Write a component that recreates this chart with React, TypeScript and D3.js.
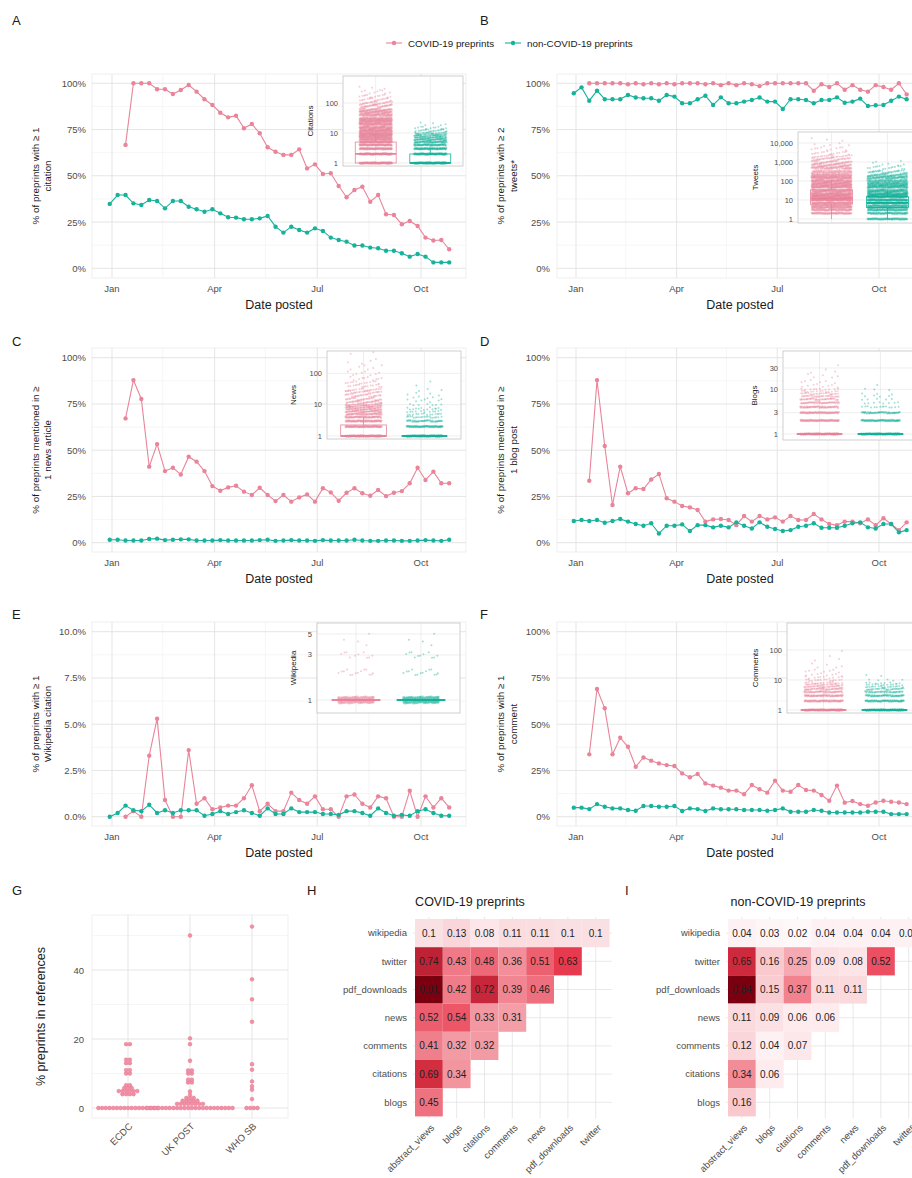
import * as d3 from "d3";

const FONT = "'Liberation Sans', Arial, Helvetica, sans-serif";
const PINK = "#e9849a";
const TEAL = "#17b29b";
const INK = "#1a1a1a";
const TICK = "#4d4d4d";
const GRID = "#e2e2e2";
const GRID_MINOR = "#f0f0f0";

// week-start dates of the weekly bins (30 Dec 2019 .. 26 Oct 2020)
const weekStarts = d3.range(44).map((i) => d3.timeDay.offset(new Date(2019, 11, 30), 7 * i));
const monthTicks = [new Date(2020, 0, 1), new Date(2020, 3, 1), new Date(2020, 6, 1), new Date(2020, 9, 1)];
const monthMinor = [new Date(2020, 1, 15), new Date(2020, 4, 16), new Date(2020, 7, 16)];

// A: % with >= 1 citation
const citationsCovid = [null, null, 66.7, 100, 100, 100, 96.8, 96.8, 94.2, 96.4, 99.1, 95.5, 91.4, 88.3, 84.1, 81.6, 82.5, 75.7, 78, 73, 65.4, 63, 61.3, 61.3, 64.3, 54, 56.2, 51, 51.4, 44.5, 38.4, 42.3, 44.1, 36, 39.6, 29.2, 28.8, 23.8, 25.6, 22.9, 16.6, 15, 15.3, 10.3];
const citationsNon = [34.8, 39.6, 39.6, 35.1, 34.2, 36.9, 36.4, 32.4, 36.4, 36.4, 33.3, 31.9, 30.6, 31.9, 29.7, 27.6, 27.4, 26.5, 26.5, 27, 28.3, 22.5, 19.3, 22.5, 20.7, 19.3, 21.6, 20.2, 16.6, 15.3, 14.4, 12.3, 12.3, 11.2, 10.8, 9.5, 9.5, 8.1, 6.3, 7.7, 6.3, 3.2, 3.2, 3.2];

// B: % with >= 2 tweets
const tweetsCovid = [null, null, 100, 100, 100, 100, 100, 99.5, 100, 99.5, 100, 99.5, 100, 99.5, 100, 100, 100, 99.5, 100, 99, 100, 99, 100, 99.5, 98.5, 100, 100, 100, 100, 100, 100, 96, 99.5, 98, 100, 96.5, 99, 96.5, 95.5, 99, 98, 96.5, 100, 94];
const tweetsNon = [94.6, 97.8, 90.6, 96, 91.4, 91.4, 91.4, 93.7, 92.3, 91.9, 91.9, 90.6, 93.7, 92.8, 89.2, 89.2, 91.4, 93.3, 88.3, 92.4, 89.2, 89.2, 90.1, 91, 92.3, 90.1, 90.1, 86.1, 91.4, 91.4, 91, 89.2, 91, 91, 92.4, 89.5, 90.1, 91.7, 87.7, 88.1, 88.3, 90.6, 92.8, 91.4];

// C: % mentioned in >= 1 news article
const newsCovid = [null, null, 67.2, 87.9, 77.7, 41.1, 53.3, 38.7, 40.5, 36.9, 46.5, 43.8, 38.7, 30.6, 28.1, 29.9, 30.8, 27.6, 25.8, 29.7, 25.8, 22.5, 25.8, 22.2, 24.5, 26.1, 22.2, 29.4, 27.2, 22.7, 27, 29.4, 26.7, 25.4, 28.5, 25.2, 27, 27.9, 32.1, 40.5, 33.9, 38.4, 32.1, 32.1];
const newsNon = [1.6, 1.6, 1.2, 1.2, 1.2, 2.0, 2.2, 1.4, 1.6, 1.8, 1.8, 1.2, 1.2, 1.2, 1.4, 1.2, 1.2, 1.2, 1.2, 1.4, 1.6, 1.0, 1.2, 1.4, 1.2, 1.2, 1.0, 1.4, 1.2, 1.2, 1.2, 1.6, 1.2, 1.0, 1.0, 1.2, 1.2, 1.0, 1.0, 1.2, 1.4, 1.2, 1.0, 1.6];

// D: % mentioned in >= 1 blog post
const blogsCovid = [null, null, 33.5, 87.9, 52.3, 20.4, 41.1, 26.7, 29.4, 29, 34.2, 37.1, 24, 22.2, 19.8, 19.1, 17.7, 11.4, 12.6, 12.8, 12.3, 9.5, 14.4, 11.4, 14.4, 12.6, 13.7, 11.4, 14.4, 12.3, 12.3, 15.5, 12.6, 10.1, 9.5, 11.4, 11.4, 10.5, 12.6, 9.5, 13.2, 10.1, 6.8, 11];
const blogsNon = [11.7, 12.3, 11.7, 12.3, 10.8, 11.7, 12.8, 11.4, 10.1, 9.2, 10.5, 5, 9.2, 9.2, 9.9, 6.3, 9.5, 9.5, 8.3, 9.2, 8.3, 11, 9.2, 7.7, 11, 8.6, 7.4, 6.3, 6.8, 8.6, 9.2, 10.5, 8.1, 8.1, 8.1, 9.2, 10.5, 11, 8.3, 7.7, 10.1, 10.1, 5.6, 6.8];

// E: % with >= 1 Wikipedia citation
const wikiCovid = [null, null, 0, 0.3, 0, 3.3, 5.3, 0.9, 0, 0, 3.6, 0.7, 1.0, 0.4, 0.5, 0.6, 0.6, 1.0, 1.7, 0.3, 0.7, 0.3, 0.3, 1.3, 0.9, 0.7, 1.1, 0.4, 0.4, 0, 1.1, 1.2, 0.7, 0.5, 1.1, 1.0, 0, 0, 1.4, 0, 1.1, 0.5, 1.0, 0.5];
const wikiNon = [0, 0.2, 0.6, 0.35, 0.3, 0.65, 0.2, 0.35, 0.2, 0.35, 0.35, 0.35, 0.05, 0.15, 0.3, 0.15, 0.25, 0.35, 0.2, 0.05, 0.45, 0.15, 0.15, 0.45, 0.25, 0.25, 0.25, 0.15, 0.15, 0.1, 0.3, 0.3, 0.2, 0.05, 0.45, 0.2, 0.05, 0.1, 0.05, 0.3, 0.4, 0.2, 0.05, 0.05];

// F: % with >= 1 comment
const commentsCovid = [null, null, 33.7, 69, 58.6, 33.7, 42.7, 37.8, 27, 32, 30.3, 28.8, 27.9, 27.4, 23.4, 21.3, 23.1, 18, 16.8, 15.7, 14.1, 14.1, 12.1, 17.1, 14.8, 13, 19.5, 14.1, 13.5, 17.1, 14.4, 14.1, 11.7, 8.6, 16.8, 7.6, 8.5, 6.8, 5.9, 7.7, 8.6, 8.1, 7.7, 6.8];
const commentsNon = [4.9, 4.9, 4.1, 6.8, 5.4, 4.5, 4.5, 3.6, 3.2, 5.8, 5.8, 5.4, 5.4, 5.8, 3.1, 4.5, 4.1, 3.1, 4.5, 4, 4, 4, 3.6, 3.6, 3.6, 3.2, 3.6, 4.5, 2.7, 2.7, 2.7, 3.6, 3.2, 2.3, 2.3, 2.3, 2.3, 2.3, 2.7, 2.7, 2.7, 1.4, 1.4, 1.4];

// inset boxplots: [lower whisker, q1, median, q3, upper whisker]; dots: [count value, preprints drawn]
const citeBoxCovid = [1, 1, 2, 5, 11];
const citeBoxNon = [1, 1, 1, 2, 3];
const citeDotsCovid = [[1, 150], [2, 140], [3, 130], [4, 120], [5, 110], [6, 100], [7, 95], [8, 90], [9, 85], [10, 80], [12, 140], [15, 140], [20, 140], [25, 120], [30, 110], [40, 100], [50, 80], [60, 60], [80, 45], [100, 30], [130, 20], [170, 14], [230, 8], [320, 4]];
const citeDotsNon = [[1, 150], [2, 120], [3, 100], [4, 80], [5, 70], [6, 55], [7, 45], [8, 35], [9, 28], [10, 22], [12, 20], [15, 12], [20, 5]];

const tweetBoxCovid = [1, 6, 12, 34, 110];
const tweetBoxNon = [1, 4, 7, 15, 30];
const tweetDotsCovid = [[2, 90], [3, 90], [4, 90], [5, 90], [7, 120], [10, 150], [15, 170], [20, 170], [30, 170], [50, 170], [70, 150], [100, 150], [150, 130], [200, 110], [300, 100], [500, 80], [700, 60], [1000, 45], [1500, 32], [2000, 22], [3000, 16], [5000, 10], [8000, 5], [15000, 3]];
const tweetDotsNon = [[1, 90], [2, 90], [3, 90], [4, 90], [5, 90], [7, 120], [10, 150], [15, 160], [20, 160], [30, 160], [50, 140], [70, 120], [100, 100], [150, 80], [200, 60], [300, 40], [500, 16], [800, 5], [1200, 2]];

const newsBoxCovid = [1, 1, 1, 2.25, 4];
const newsBoxNon = [1, 1, 1, 1, 1];
const newsDotsCovid = [[1, 150], [2, 120], [3, 100], [4, 80], [5, 65], [6, 55], [7, 48], [8, 42], [9, 36], [10, 34], [12, 40], [15, 34], [20, 30], [25, 24], [30, 20], [40, 16], [50, 13], [70, 10], [100, 8], [150, 6], [250, 4], [400, 2]];
const newsDotsNon = [[1, 150], [2, 90], [3, 50], [4, 20], [5, 14], [6, 10], [7, 8], [8, 6], [10, 7], [13, 6], [17, 5], [22, 4], [30, 3], [45, 2]];

const blogBoxCovid = [1, 1, 1, 1, 1];
const blogBoxNon = [1, 1, 1, 1, 1];
const blogDotsCovid = [[1, 150], [2, 110], [3, 90], [4, 70], [5, 55], [6, 40], [7, 30], [8, 22], [9, 14], [10, 10], [12, 8], [15, 6], [20, 5], [25, 3], [32, 1]];
const blogDotsNon = [[1, 150], [2, 90], [3, 60], [4, 14], [5, 8], [6, 5], [7, 4], [8, 3], [10, 3], [12, 1]];

const wikiBoxCovid = [1, 1, 1, 1, 1];
const wikiBoxNon = [1, 1, 1, 1, 1];
const wikiDotsCovid = [[1, 220], [2, 14], [3, 10], [4, 3], [5, 1]];
const wikiDotsNon = [[1, 220], [2, 14], [3, 11], [4, 3], [5, 1]];

const commBoxCovid = [1, 1, 1, 1, 1];
const commBoxNon = [1, 1, 1, 1, 1];
const commDotsCovid = [[1, 150], [2, 100], [3, 80], [4, 60], [5, 45], [6, 32], [7, 24], [8, 18], [10, 16], [12, 10], [15, 8], [20, 7], [30, 5], [50, 3], [80, 1]];
const commDotsNon = [[1, 150], [2, 90], [3, 65], [4, 45], [5, 30], [6, 18], [7, 12], [8, 8], [10, 5], [13, 2]];

// G: % preprints in references, per source document ([value, documents])
const refCats = ["ECDC", "UK POST", "WHO SB"];
const ecdcDots = [[0, 17], [4, 4], [4.9, 6], [5.8, 3], [6.6, 2], [10, 2], [11, 2], [13, 2], [14, 2], [18.5, 2]];
const ukPostDots = [[0, 24], [1.2, 8], [2.1, 5], [2.9, 3], [3.8, 1], [4.8, 1], [7.4, 2], [8.2, 2], [10, 2], [10.9, 2], [13.7, 1], [18.5, 1], [20.2, 1], [50, 1]];
const whoSbDots = [[0, 4], [2.6, 1], [5.3, 1], [6.3, 1], [7.7, 1], [11.1, 1], [12.7, 1], [25, 1], [31.5, 1], [37.3, 1], [52.6, 1]];

// H / I: correlation between metrics (lower triangle, rows top to bottom)
const heatCols = ["abstract_views", "blogs", "citations", "comments", "news", "pdf_downloads", "twitter"];
const heatRows = ["wikipedia", "twitter", "pdf_downloads", "news", "comments", "citations", "blogs"];
const covidCorr = [[0.1, 0.13, 0.08, 0.11, 0.11, 0.1, 0.1], [0.74, 0.43, 0.48, 0.36, 0.51, 0.63], [0.91, 0.42, 0.72, 0.39, 0.46], [0.52, 0.54, 0.33, 0.31], [0.41, 0.32, 0.32], [0.69, 0.34], [0.45]];
const nonCovidCorr = [[0.04, 0.03, 0.02, 0.04, 0.04, 0.04, 0.04], [0.65, 0.16, 0.25, 0.09, 0.08, 0.52], [0.84, 0.15, 0.37, 0.11, 0.11], [0.11, 0.09, 0.06, 0.06], [0.12, 0.04, 0.07], [0.34, 0.06], [0.16]];

// layout
const COLS = [
  { x0: 92, x1: 466, jan: 112, oct: 421, tickRight: 86, labX: [39, 51], letterX: 12 },
  { x0: 557, x1: 923, jan: 576, oct: 879, tickRight: 550, labX: [504, 517], letterX: 480 },
];
const ROWS = [
  { y0: 74, y1: 278, yTop: 83.3, yZero: 268.3, letterY: 25 },
  { y0: 348, y1: 552, yTop: 357.7, yZero: 542.7, letterY: 346 },
  { y0: 622, y1: 826, yTop: 631.7, yZero: 816.7, letterY: 619 },
];

function jitterDots(levels, cx, half, y, amp) {
  const out = [];
  levels.forEach(([v, n], li) => {
    let a = amp;
    if (v > 10) {
      const gaps = [levels[li - 1], levels[li + 1]].filter(Boolean).map((l) => Math.abs(y(l[0]) - y(v)));
      a = Math.max(amp, Math.min(3, Math.min(...gaps) / 2));
    }
    for (let k = 0; k < n; k++) {
      const fx = ((k + 1) * 0.6180339887 + li * 0.311) % 1;
      const fy = ((k + 1) * 0.7548776662 + li * 0.173) % 1;
      out.push([cx + (fx - 0.5) * 2 * half, y(v) + (fy - 0.5) * 2 * a]);
    }
  });
  return out;
}

function Inset({ cfg }) {
  const [x0, x1, y0, y1] = cfg.frame;
  const y = d3.scaleLog().domain(cfg.logDomain).range(cfg.logRange);
  const s = (x1 - x0) / 2.2;
  const centers = [x0 + 0.6 * s, x0 + 1.6 * s];
  const bw = 0.75 * s;
  const fmt = d3.format(",");
  const groups = [
    { cx: centers[0], box: cfg.boxCovid, dots: cfg.covid, color: PINK },
    { cx: centers[1], box: cfg.boxNon, dots: cfg.non, color: TEAL },
  ];
  return (
    <g>
      <rect x={x0} y={y0} width={x1 - x0} height={y1 - y0} fill="#fff" stroke="#c4c4c4" strokeWidth={0.8} />
      {cfg.ticks.map((t) => (
        <line key={"g" + t} x1={x0} x2={x1} y1={y(t)} y2={y(t)} stroke={GRID} strokeWidth={0.6} />
      ))}
      {centers.map((c) => (
        <line key={"v" + c} x1={c} x2={c} y1={y0} y2={y1} stroke={GRID} strokeWidth={0.6} />
      ))}
      {groups.map((g) => {
        const [lo, q1, med, q3, hi] = g.box;
        return (
          <g key={g.color}>
            <line x1={g.cx} x2={g.cx} y1={y(q3)} y2={y(hi)} stroke={g.color} strokeWidth={0.8} />
            <line x1={g.cx} x2={g.cx} y1={y(q1)} y2={y(lo)} stroke={g.color} strokeWidth={0.8} />
            {q3 > q1 && (
              <rect x={g.cx - bw / 2} y={y(q3)} width={bw} height={y(q1) - y(q3)} fill="none" stroke={g.color} strokeWidth={0.8} />
            )}
            <line x1={g.cx - bw / 2} x2={g.cx + bw / 2} y1={y(med)} y2={y(med)} stroke={g.color} strokeWidth={1.8} />
            {jitterDots(g.dots, g.cx, cfg.jw * s, y, cfg.amp).map(([px, py], i) => (
              <circle key={i} cx={px} cy={py} r={1} fill={g.color} fillOpacity={0.4} />
            ))}
          </g>
        );
      })}
      {cfg.ticks.map((t) => (
        <text key={"t" + t} x={x0 - 5} y={y(t) + 2.5} fontSize={7.5} fill={TICK} textAnchor="end">
          {fmt(t)}
        </text>
      ))}
      <text transform={`translate(${cfg.titleX},${(y0 + y1) / 2}) rotate(-90)`} fontSize={8} fill={INK} textAnchor="middle">
        {cfg.title}
      </text>
    </g>
  );
}

function LinePanel({ letter, col, row, covid, non, yMax, yDigits, yLabel, inset }) {
  const c = COLS[col];
  const r = ROWS[row];
  const x = d3.scaleTime().domain([monthTicks[0], monthTicks[3]]).range([c.jan, c.oct]);
  const y = d3.scaleLinear().domain([0, yMax]).range([r.yZero, r.yTop]);
  const yMajor = d3.range(5).map((i) => (i * yMax) / 4);
  const yMinor = d3.range(4).map((i) => ((i + 0.5) * yMax) / 4);
  const line = d3
    .line()
    .defined((v) => v != null)
    .x((_, i) => x(weekStarts[i]))
    .y((v) => y(v));
  const series = [
    { vals: covid, color: PINK },
    { vals: non, color: TEAL },
  ];
  const midY = (r.y0 + r.y1) / 2;
  const midX = (c.x0 + c.x1) / 2;
  return (
    <g>
      <text x={c.letterX} y={r.letterY} fontSize={13} fill={INK}>
        {letter}
      </text>
      <rect x={c.x0} y={r.y0} width={c.x1 - c.x0} height={r.y1 - r.y0} fill="#fff" stroke="#ebebeb" strokeWidth={0.8} />
      {yMinor.map((v) => (
        <line key={"ym" + v} x1={c.x0} x2={c.x1} y1={y(v)} y2={y(v)} stroke={GRID_MINOR} strokeWidth={0.6} />
      ))}
      {monthMinor.map((d) => (
        <line key={"xm" + d} x1={x(d)} x2={x(d)} y1={r.y0} y2={r.y1} stroke={GRID_MINOR} strokeWidth={0.6} />
      ))}
      {yMajor.map((v) => (
        <line key={"yM" + v} x1={c.x0} x2={c.x1} y1={y(v)} y2={y(v)} stroke={GRID} strokeWidth={0.9} />
      ))}
      {monthTicks.map((d) => (
        <line key={"xM" + d} x1={x(d)} x2={x(d)} y1={r.y0} y2={r.y1} stroke={GRID} strokeWidth={0.9} />
      ))}
      <Inset cfg={inset} />
      {series.map((s) => (
        <g key={s.color}>
          <path d={line(s.vals)} fill="none" stroke={s.color} strokeWidth={1.1} />
          {s.vals.map((v, i) =>
            v == null ? null : <circle key={i} cx={x(weekStarts[i])} cy={y(v)} r={2.2} fill={s.color} />
          )}
        </g>
      ))}
      {yMajor.map((v) => (
        <text key={"yl" + v} x={c.tickRight} y={y(v) + 3.5} fontSize={9.5} fill={TICK} textAnchor="end">
          {v.toFixed(yDigits) + "%"}
        </text>
      ))}
      {monthTicks.map((d) => (
        <text key={"xl" + d} x={x(d)} y={r.y1 + 14} fontSize={9.5} fill={TICK} textAnchor="middle">
          {d3.timeFormat("%b")(d)}
        </text>
      ))}
      <text x={midX} y={r.y1 + 31} fontSize={12.5} fill={INK} textAnchor="middle">
        Date posted
      </text>
      {yLabel.map((t, i) => (
        <text key={t} transform={`translate(${c.labX[i]},${midY}) rotate(-90)`} fontSize={9.8} fill={INK} textAnchor="middle">
          {t}
        </text>
      ))}
    </g>
  );
}

function RefDotPanel() {
  const x = d3.scalePoint().domain(refCats).range([128, 252]);
  const y = d3.scaleLinear().domain([0, 20]).range([1108, 1039]);
  const px0 = 92, px1 = 288, py0 = 915, py1 = 1118;
  const sets = [ecdcDots, ukPostDots, whoSbDots];
  const d = 3.7;
  return (
    <g>
      <text x={12} y={895} fontSize={13} fill={INK}>G</text>
      <rect x={px0} y={py0} width={px1 - px0} height={py1 - py0} fill="#fff" stroke="#ebebeb" strokeWidth={0.8} />
      {[10, 30, 50].map((v) => (
        <line key={"m" + v} x1={px0} x2={px1} y1={y(v)} y2={y(v)} stroke={GRID_MINOR} strokeWidth={0.6} />
      ))}
      {[0, 20, 40].map((v) => (
        <line key={"M" + v} x1={px0} x2={px1} y1={y(v)} y2={y(v)} stroke={GRID} strokeWidth={0.9} />
      ))}
      {refCats.map((cat) => (
        <line key={cat} x1={x(cat)} x2={x(cat)} y1={py0} y2={py1} stroke={GRID} strokeWidth={0.9} />
      ))}
      {sets.map((set, si) =>
        set.map(([v, n]) =>
          d3.range(n).map((k) => (
            <circle
              key={`${si}-${v}-${k}`}
              cx={x(refCats[si]) + (k - (n - 1) / 2) * d}
              cy={y(v)}
              r={1.9}
              fill="#f291a6"
              stroke="#e3768f"
              strokeWidth={0.5}
            />
          ))
        )
      )}
      {[0, 20, 40].map((v) => (
        <text key={"t" + v} x={84} y={y(v) + 3.5} fontSize={9.5} fill={TICK} textAnchor="end">
          {v}
        </text>
      ))}
      {refCats.map((cat) => (
        <text key={"l" + cat} transform={`translate(${x(cat) + 5},${1127}) rotate(-45)`} fontSize={9.5} fill={TICK} textAnchor="end">
          {cat}
        </text>
      ))}
      <text transform={`translate(44.5,${(py0 + py1) / 2}) rotate(-90)`} fontSize={12.5} fill={INK} textAnchor="middle">
        % preprints in references
      </text>
    </g>
  );
}

function Heatmap({ letter, letterX, x0, data, title, titleX }) {
  const cw = 27.8, ch = 28.2, y0 = 919;
  const x = d3.scaleBand().domain(heatCols).range([x0, x0 + cw * heatCols.length]);
  const y = d3.scaleBand().domain(heatRows).range([y0, y0 + ch * heatRows.length]);
  const maxV = d3.max(data.flat());
  const color = d3.scaleLinear().domain([0, 0.7 * maxV, maxV]).range(["#ffffff", "#e8384c", "#7a0010"]);
  const px1 = x0 + cw * heatCols.length;
  const py1 = y0 + ch * heatRows.length;
  return (
    <g>
      <text x={letterX} y={895} fontSize={13} fill={INK}>{letter}</text>
      <text x={titleX} y={906} fontSize={12.5} fill={INK} textAnchor="middle">{title}</text>
      {heatCols.map((c) => (
        <line key={"gc" + c} x1={x(c) + cw / 2} x2={x(c) + cw / 2} y1={y0 - 2} y2={py1 + 2} stroke={GRID} strokeWidth={0.8} />
      ))}
      {heatRows.map((r) => (
        <line key={"gr" + r} x1={x0 - 2} x2={px1 + 2} y1={y(r) + ch / 2} y2={y(r) + ch / 2} stroke={GRID} strokeWidth={0.8} />
      ))}
      {data.map((vals, ri) =>
        vals.map((v, ci) => (
          <g key={`${ri}-${ci}`}>
            <rect x={x(heatCols[ci])} y={y(heatRows[ri])} width={cw} height={ch} fill={color(v)} />
            <text x={x(heatCols[ci]) + cw / 2} y={y(heatRows[ri]) + ch / 2 + 3.5} fontSize={10} fill="#222" textAnchor="middle">
              {String(v)}
            </text>
          </g>
        ))
      )}
      {heatRows.map((r) => (
        <text key={"rl" + r} x={x0 - 8} y={y(r) + ch / 2 + 3.3} fontSize={9.5} fill={TICK} textAnchor="end">
          {r}
        </text>
      ))}
      {heatCols.map((c) => (
        <text key={"cl" + c} transform={`translate(${x(c) + cw / 2 + 6},${py1 + 12}) rotate(-45)`} fontSize={9.5} fill={TICK} textAnchor="end">
          {c}
        </text>
      ))}
    </g>
  );
}

function Legend() {
  const items = [
    { label: "COVID-19 preprints", color: PINK, x: 386 },
    { label: "non-COVID-19 preprints", color: TEAL, x: 505 },
  ];
  return (
    <g>
      {items.map((it) => (
        <g key={it.label}>
          <line x1={it.x} x2={it.x + 16} y1={43} y2={43} stroke={it.color} strokeWidth={1.1} />
          <circle cx={it.x + 8} cy={43} r={2.2} fill={it.color} />
          <text x={it.x + 22} y={46.5} fontSize={9.8} fill={INK}>
            {it.label}
          </text>
        </g>
      ))}
    </g>
  );
}

const insetA = { frame: [343, 463, 76, 166], logDomain: [1, 100], logRange: [163, 103], ticks: [1, 10, 100], title: "Citations", titleX: 313, amp: 0.8, jw: 0.3, covid: citeDotsCovid, non: citeDotsNon, boxCovid: citeBoxCovid, boxNon: citeBoxNon };
const insetB = { frame: [798, 921, 132, 223], logDomain: [1, 10000], logRange: [219, 143], ticks: [1, 10, 100, 1000, 10000], title: "Tweets", titleX: 758, amp: 0.8, jw: 0.36, covid: tweetDotsCovid, non: tweetDotsNon, boxCovid: tweetBoxCovid, boxNon: tweetBoxNon };
const insetC = { frame: [327, 461, 351, 439], logDomain: [1, 100], logRange: [436, 373.3], ticks: [1, 10, 100], title: "News", titleX: 296, amp: 0.8, jw: 0.3, covid: newsDotsCovid, non: newsDotsNon, boxCovid: newsBoxCovid, boxNon: newsBoxNon };
const insetD = { frame: [783, 917, 351, 440], logDomain: [1, 30], logRange: [434, 368], ticks: [1, 3, 10, 30], title: "Blogs", titleX: 757, amp: 0.8, jw: 0.32, covid: blogDotsCovid, non: blogDotsNon, boxCovid: blogBoxCovid, boxNon: blogBoxNon };
const insetE = { frame: [317, 460, 623, 713], logDomain: [1, 5], logRange: [700, 634], ticks: [1, 3, 5], title: "Wikipedia", titleX: 296, amp: 3.5, jw: 0.28, covid: wikiDotsCovid, non: wikiDotsNon, boxCovid: wikiBoxCovid, boxNon: wikiBoxNon };
const insetF = { frame: [787, 921, 623, 713], logDomain: [1, 100], logRange: [710, 650], ticks: [1, 10, 100], title: "Comments", titleX: 758, amp: 0.8, jw: 0.32, covid: commDotsCovid, non: commDotsNon, boxCovid: commBoxCovid, boxNon: commBoxNon };

export default function App() {
  return (
    <svg width={912} height={1178} fontFamily={FONT} style={{ position: "absolute", left: 0, top: 0, background: "#fff" }}>
      <rect width={912} height={1178} fill="#fff" />
      <Legend />
      <LinePanel letter="A" col={0} row={0} covid={citationsCovid} non={citationsNon} yMax={100} yDigits={0} yLabel={["% of preprints with ≥ 1", "citation"]} inset={insetA} />
      <LinePanel letter="B" col={1} row={0} covid={tweetsCovid} non={tweetsNon} yMax={100} yDigits={0} yLabel={["% of preprints with ≥ 2", "tweets*"]} inset={insetB} />
      <LinePanel letter="C" col={0} row={1} covid={newsCovid} non={newsNon} yMax={100} yDigits={0} yLabel={["% of preprints mentioned in ≥", "1 news article"]} inset={insetC} />
      <LinePanel letter="D" col={1} row={1} covid={blogsCovid} non={blogsNon} yMax={100} yDigits={0} yLabel={["% of preprints mentioned in ≥", "1 blog post"]} inset={insetD} />
      <LinePanel letter="E" col={0} row={2} covid={wikiCovid} non={wikiNon} yMax={10} yDigits={1} yLabel={["% of preprints with ≥ 1", "Wikipedia citation"]} inset={insetE} />
      <LinePanel letter="F" col={1} row={2} covid={commentsCovid} non={commentsNon} yMax={100} yDigits={0} yLabel={["% of preprints with ≥ 1", "comment"]} inset={insetF} />
      <RefDotPanel />
      <Heatmap letter="H" letterX={307} x0={415} data={covidCorr} title="COVID-19 preprints" titleX={470} />
      <Heatmap letter="I" letterX={625} x0={728} data={nonCovidCorr} title="non-COVID-19 preprints" titleX={798} />
    </svg>
  );
}
